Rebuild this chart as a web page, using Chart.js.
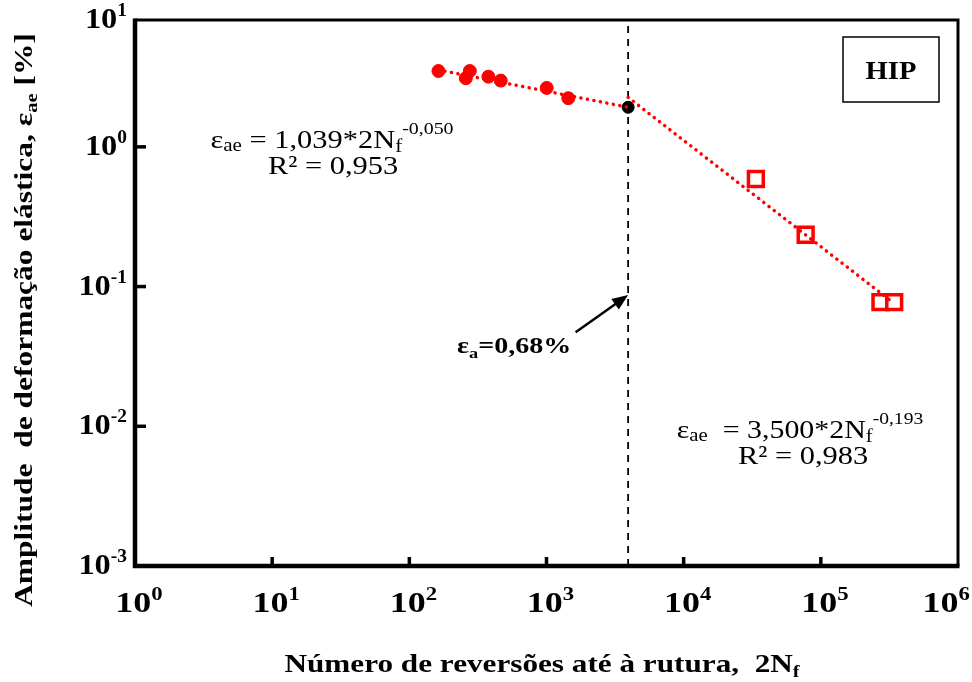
<!DOCTYPE html>
<html lang="pt">
<head>
  <meta charset="UTF-8">
  <title>Amplitude de deformação elástica - HIP</title>
  <script src="https://cdn.jsdelivr.net/npm/chart.js"></script>
  <style>
        body {
            margin: 0;
            background-color: #ffffff;
        }
    </style>
</head>
<body>
<canvas id="strainChart" width="972" height="682"></canvas>
<script>
    // ensaios HIP: reversões até à rutura (2Nf) e amplitude de deformação elástica [%]
    const lowCycleN = [163, 258, 276, 377, 464, 1003, 1442];
    const lowCycleE = [3.49, 3.10, 3.49, 3.18, 2.98, 2.64, 2.23];
    const transitionN = [3936];
    const transitionE = [1.92];
    const highCycleN = [33600, 77500, 272000, 342500];
    const highCycleE = [0.589, 0.235, 0.0773, 0.0773];

    // rectas de ajuste (extremos)
    const fitLowN = [163, 3936];
    const fitLowE = [3.55, 1.92];
    const fitHighN = [3936, 342500];
    const fitHighE = [2.26, 0.0757];

    // eixos
    const xTicks = [1, 10, 100, 1000, 10000, 100000, 1000000];
    const xTickExp = ['0', '1', '2', '3', '4', '5', '6'];
    const yTicks = [0.001, 0.01, 0.1, 1, 10];
    const yTickExp = ['-3', '-2', '-1', '0', '1'];
    const yMin = 0.001;
    const yMax = 8.09;

    // seta para a linha de transição
    const arrowFrom = {x: 1630, y: 0.0471};
    const arrowTo = {x: 3936, y: 0.0871};

    const SERIF = "'Liberation Serif', 'Times New Roman', serif";

    function toXY(xs, ys) {
        return xs.map((x, i) => ({x: x, y: ys[i]}));
    }

    // texto com índices: cada parte [texto, tamanho, negrito, deslocamento vertical]
    // sx alarga o texto na horizontal
    function richWidth(ctx, parts) {
        let total = 0;
        parts.forEach(p => {
            ctx.font = (p[2] ? 'bold ' : '') + p[1] + 'px ' + SERIF;
            total += ctx.measureText(p[0]).width;
        });
        return total;
    }

    function drawRich(ctx, parts, x, y, align, sx) {
        sx = sx || 1;
        const total = richWidth(ctx, parts) * sx;
        let start = x;
        if (align === 'center') start = x - total / 2;
        if (align === 'right') start = x - total;
        ctx.save();
        ctx.translate(start, y);
        ctx.scale(sx, 1);
        ctx.textAlign = 'left';
        ctx.textBaseline = 'alphabetic';
        let cx = 0;
        parts.forEach(p => {
            ctx.font = (p[2] ? 'bold ' : '') + p[1] + 'px ' + SERIF;
            ctx.fillText(p[0], cx, p[3] || 0);
            cx += ctx.measureText(p[0]).width;
        });
        ctx.restore();
    }

    const framePlugin = {
        id: 'frame',
        afterDraw(chart) {
            const ctx = chart.ctx;
            const a = chart.chartArea;
            const xs = chart.scales.x;
            const ys = chart.scales.y;
            ctx.save();
            ctx.strokeStyle = '#000';
            ctx.fillStyle = '#000';

            // caixa do gráfico
            ctx.lineWidth = 3;
            ctx.beginPath();
            ctx.moveTo(a.left, a.top);
            ctx.lineTo(a.right, a.top);
            ctx.lineTo(a.right, a.bottom);
            ctx.stroke();
            ctx.lineWidth = 4.5;
            ctx.beginPath();
            ctx.moveTo(a.left, a.top - 1.5);
            ctx.lineTo(a.left, a.bottom);
            ctx.lineTo(a.right + 1.5, a.bottom);
            ctx.stroke();

            // marcas interiores
            ctx.lineWidth = 3.5;
            xTicks.forEach(v => {
                const px = xs.getPixelForValue(v);
                if (px <= a.left + 2 || px >= a.right - 2) return;
                ctx.beginPath();
                ctx.moveTo(px, a.bottom);
                ctx.lineTo(px, a.bottom - 9);
                ctx.stroke();
            });
            yTicks.forEach(v => {
                const py = ys.getPixelForValue(v);
                if (py <= a.top + 2 || py >= a.bottom - 2) return;
                ctx.beginPath();
                ctx.moveTo(a.left, py);
                ctx.lineTo(a.left + 11, py);
                ctx.stroke();
            });

            // etiquetas dos eixos (potências de 10)
            xTicks.forEach((v, i) => {
                const px = xs.getPixelForValue(v);
                const parts = [['10', 30, true, 0], [xTickExp[i], 19, true, -12]];
                const w = richWidth(ctx, parts) * 1.2;
                let left = px + 4 - w / 2;
                if (left + w > 970) left = 970 - w;
                drawRich(ctx, parts, left, 612, 'left', 1.2);
            });
            yTicks.forEach((v, i) => {
                const py = Math.max(a.top, ys.getPixelForValue(v));
                drawRich(ctx, [['10', 30, true, 0], [yTickExp[i], 18, true, -12]], 127, py + 8, 'right', 1.08);
            });

            // títulos dos eixos
            drawRich(ctx, [['Número de reversões até à rutura,  2N', 26, true, 0], ['f', 17, true, 5]], 542, 672, 'center', 1.2);
            ctx.save();
            ctx.translate(32, 320);
            ctx.rotate(-Math.PI / 2);
            drawRich(ctx, [['Amplitude  de deformação elástica, ε', 26, true, 0], ['ae', 17, true, 5], [' [%]', 26, true, 0]], 0, 0, 'center', 1.21);
            ctx.restore();

            // equações de ajuste
            drawRich(ctx, [['ε', 26], ['ae', 18, false, 3], [' = 1,039*2N', 26], ['f', 18, false, 4], ['-0,050', 17, false, -14]], 332, 148, 'center', 1.17);
            drawRich(ctx, [['R² = 0,953', 26]], 333, 174, 'center', 1.17);
            drawRich(ctx, [['ε', 26], ['ae', 18, false, 3], ['  = 3,500*2N', 26], ['f', 18, false, 4], ['-0,193', 17, false, -14]], 800, 438, 'center', 1.15);
            drawRich(ctx, [['R² = 0,983', 26]], 803, 464, 'center', 1.17);

            // seta e valor da transição
            const x0 = xs.getPixelForValue(arrowFrom.x), y0 = ys.getPixelForValue(arrowFrom.y);
            const x1 = xs.getPixelForValue(arrowTo.x), y1 = ys.getPixelForValue(arrowTo.y);
            const ang = Math.atan2(y1 - y0, x1 - x0);
            ctx.lineWidth = 2.5;
            ctx.beginPath();
            ctx.moveTo(x0, y0);
            ctx.lineTo(x1 - 12 * Math.cos(ang), y1 - 12 * Math.sin(ang));
            ctx.stroke();
            ctx.beginPath();
            ctx.moveTo(x1, y1);
            ctx.lineTo(x1 - 16 * Math.cos(ang) + 6.5 * Math.sin(ang), y1 - 16 * Math.sin(ang) - 6.5 * Math.cos(ang));
            ctx.lineTo(x1 - 16 * Math.cos(ang) - 6.5 * Math.sin(ang), y1 - 16 * Math.sin(ang) + 6.5 * Math.cos(ang));
            ctx.closePath();
            ctx.fill();
            drawRich(ctx, [['ε', 23, true], ['a', 15, true, 5], ['=0,68%', 23, true]], 457, 353, 'left', 1.22);

            // legenda do material
            ctx.lineWidth = 1.5;
            ctx.strokeRect(843, 37, 96, 65);
            drawRich(ctx, [['HIP', 26, true]], 891, 79, 'center', 1.1);
            ctx.restore();
        }
    };

    const ctx = document.getElementById('strainChart').getContext('2d');
    window.strainChart = new Chart(ctx, {
        type: 'scatter',
        data: {
            datasets: [
                {
                    label: 'Ajuste baixo ciclo',
                    data: toXY(fitLowN, fitLowE),
                    showLine: true,
                    borderColor: '#ff0000',
                    borderWidth: 3.5,
                    borderDash: [0.1, 6.5],
                    borderCapStyle: 'round',
                    pointRadius: 0,
                    order: 0
                },
                {
                    label: 'Ajuste alto ciclo',
                    data: toXY(fitHighN, fitHighE),
                    showLine: true,
                    borderColor: '#ff0000',
                    borderWidth: 3.5,
                    borderDash: [0.1, 6.5],
                    borderCapStyle: 'round',
                    pointRadius: 0,
                    order: 0
                },
                {
                    label: 'Transição',
                    data: [{x: transitionN[0], y: yMin}, {x: transitionN[0], y: yMax}],
                    showLine: true,
                    borderColor: '#000000',
                    borderWidth: 1.8,
                    borderDash: [7, 6],
                    pointRadius: 0,
                    order: 3
                },
                {
                    label: 'Baixo ciclo',
                    data: toXY(lowCycleN, lowCycleE),
                    backgroundColor: '#ff0000',
                    borderColor: '#ff0000',
                    pointRadius: 6.5,
                    order: 1
                },
                {
                    label: 'Ponto de transição',
                    data: toXY(transitionN, transitionE),
                    backgroundColor: '#000000',
                    borderColor: '#000000',
                    pointRadius: 6,
                    order: 1
                },
                {
                    label: 'Alto ciclo',
                    data: toXY(highCycleN, highCycleE),
                    pointStyle: 'rect',
                    backgroundColor: '#ffffff',
                    borderColor: '#ff0000',
                    borderWidth: 3.5,
                    pointRadius: 10.5,
                    order: 1
                }
            ]
        },
        options: {
            responsive: false,
            animation: false,
            layout: {
                padding: {left: 135, right: 12, top: 20, bottom: 116}
            },
            plugins: {
                legend: {display: false},
                tooltip: {enabled: false}
            },
            scales: {
                x: {
                    type: 'logarithmic',
                    min: 1,
                    max: 1000000,
                    ticks: {display: false},
                    grid: {display: false, drawTicks: false},
                    border: {display: false}
                },
                y: {
                    type: 'logarithmic',
                    min: yMin,
                    max: yMax,
                    ticks: {display: false},
                    grid: {display: false, drawTicks: false},
                    border: {display: false}
                }
            }
        },
        plugins: [framePlugin]
    });
</script>
</body>
</html>
